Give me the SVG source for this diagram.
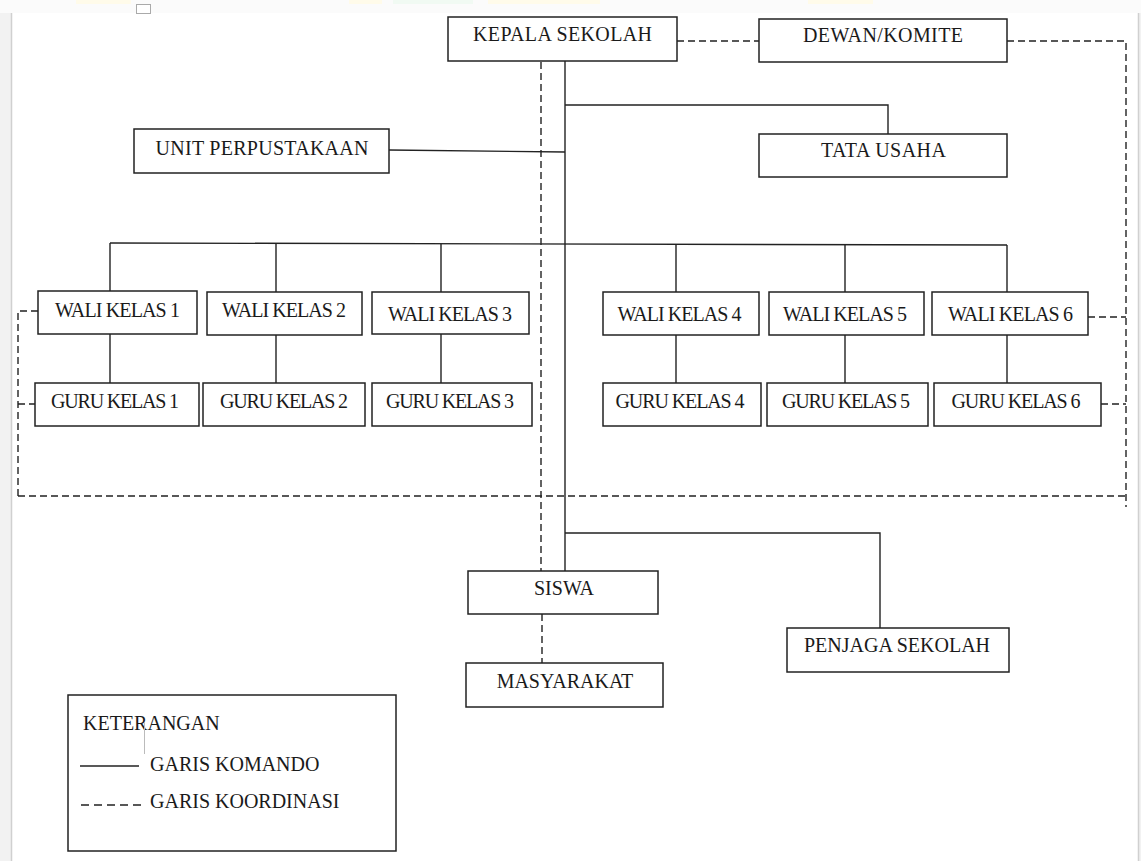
<svg xmlns="http://www.w3.org/2000/svg" width="1141" height="861" viewBox="0 0 1141 861" font-family="Liberation Serif, serif">
<style>
.box{fill:#fff;stroke:#222;stroke-width:1.5}
text{font-family:'Liberation Serif',serif;font-size:20px;fill:#1a1a1a}
.t{text-anchor:middle}
.solid{fill:none;stroke:#222;stroke-width:1.4}
.dash{fill:none;stroke:#222;stroke-width:1.4;stroke-dasharray:7 4}
</style>
<g id="page">
<rect x="0" y="0" width="1141" height="861" fill="#f2f2f2"/>
<rect x="12" y="13" width="1126" height="848" fill="#fff"/>
<rect x="0" y="0" width="1141" height="13" fill="#fbfbfb"/>
<rect x="76" y="0" width="55" height="4" fill="#fffbea"/>
<rect x="349" y="0" width="33" height="4" fill="#fffbea"/>
<rect x="393" y="0" width="80" height="4" fill="#f1faf3"/>
<rect x="488" y="0" width="112" height="4" fill="#fffbea"/>
<rect x="808" y="0" width="65" height="4" fill="#fffbea"/>
<rect x="136.5" y="4.5" width="14" height="9" fill="#fff" stroke="#aaa" stroke-width="1"/>
<line x1="11.5" y1="13" x2="11.5" y2="861" stroke="#d0d0d0" stroke-width="1.5"/>
<line x1="1138.5" y1="13" x2="1138.5" y2="861" stroke="#d0d0d0" stroke-width="1.5"/>
</g>
<g id="connectors">
<line class="solid" x1="565" y1="61" x2="565" y2="571"/>
<polyline class="solid" points="565,105 888,105 888,134"/>
<line class="solid" x1="389" y1="150" x2="565" y2="152"/>
<line class="solid" x1="110" y1="243" x2="1007" y2="245"/>
<line class="solid" x1="110" y1="243" x2="110" y2="291"/>
<line class="solid" x1="276" y1="243" x2="276" y2="292"/>
<line class="solid" x1="441" y1="244" x2="441" y2="292"/>
<line class="solid" x1="676" y1="244" x2="676" y2="292"/>
<line class="solid" x1="845" y1="245" x2="845" y2="292"/>
<line class="solid" x1="1007" y1="245" x2="1007" y2="292"/>
<line class="solid" x1="110" y1="334" x2="110" y2="383"/>
<line class="solid" x1="276" y1="335" x2="276" y2="383"/>
<line class="solid" x1="441" y1="334" x2="441" y2="383"/>
<line class="solid" x1="676" y1="335" x2="676" y2="383"/>
<line class="solid" x1="845" y1="335" x2="845" y2="383"/>
<line class="solid" x1="1007" y1="335" x2="1007" y2="383"/>
<polyline class="solid" points="565,533 880,533 880,628"/>
<line class="dash" x1="677" y1="41" x2="759" y2="41"/>
<polyline class="dash" points="1007,41 1126,41 1126,507"/>
<line class="dash" x1="18" y1="496" x2="1126" y2="496"/>
<polyline class="dash" points="38,311 18,311 18,496"/>
<line class="dash" x1="18" y1="404" x2="35" y2="404"/>
<line class="dash" x1="1088" y1="317" x2="1126" y2="317"/>
<line class="dash" x1="1101" y1="404" x2="1126" y2="404"/>
<line class="dash" x1="541" y1="62" x2="541" y2="571"/>
<line class="dash" x1="542" y1="614" x2="542" y2="663"/>
</g>
<g id="kepala-sekolah"><rect class="box" x="448" y="17" width="229" height="44"/><text class="t" x="562.5" y="41" textLength="179">KEPALA SEKOLAH</text></g>
<g id="dewan-komite"><rect class="box" x="759" y="19" width="248" height="43"/><text class="t" x="883" y="42" textLength="160">DEWAN/KOMITE</text></g>
<g id="unit-perpustakaan"><rect class="box" x="134" y="129" width="255" height="44"/><text class="t" x="262" y="155" textLength="213">UNIT PERPUSTAKAAN</text></g>
<g id="tata-usaha"><rect class="box" x="759" y="134" width="248" height="43"/><text class="t" x="883.5" y="157" textLength="125">TATA USAHA</text></g>
<g id="wali-kelas-1"><rect class="box" x="38" y="291" width="159" height="43"/><text class="t" x="117.5" y="317" textLength="125">WALI KELAS 1</text></g>
<g id="wali-kelas-2"><rect class="box" x="207" y="292" width="155" height="43"/><text class="t" x="284" y="317" textLength="124">WALI KELAS 2</text></g>
<g id="wali-kelas-3"><rect class="box" x="372" y="292" width="157" height="42"/><text class="t" x="450" y="321" textLength="124">WALI KELAS 3</text></g>
<g id="wali-kelas-4"><rect class="box" x="603" y="292" width="156" height="43"/><text class="t" x="679.5" y="321" textLength="124">WALI KELAS 4</text></g>
<g id="wali-kelas-5"><rect class="box" x="769" y="292" width="155" height="43"/><text class="t" x="845" y="321" textLength="124">WALI KELAS 5</text></g>
<g id="wali-kelas-6"><rect class="box" x="932" y="292" width="156" height="43"/><text class="t" x="1010.5" y="321" textLength="125">WALI KELAS 6</text></g>
<g id="guru-kelas-1"><rect class="box" x="35" y="383" width="164" height="43"/><text class="t" x="115" y="408" textLength="128">GURU KELAS 1</text></g>
<g id="guru-kelas-2"><rect class="box" x="203" y="383" width="162" height="43"/><text class="t" x="284" y="408" textLength="128">GURU KELAS 2</text></g>
<g id="guru-kelas-3"><rect class="box" x="372" y="383" width="160" height="43"/><text class="t" x="450" y="408" textLength="128">GURU KELAS 3</text></g>
<g id="guru-kelas-4"><rect class="box" x="603" y="383" width="158" height="43"/><text class="t" x="680" y="408" textLength="129">GURU KELAS 4</text></g>
<g id="guru-kelas-5"><rect class="box" x="767" y="383" width="161" height="43"/><text class="t" x="846" y="408" textLength="128">GURU KELAS 5</text></g>
<g id="guru-kelas-6"><rect class="box" x="934" y="383" width="167" height="43"/><text class="t" x="1016" y="408" textLength="129">GURU KELAS 6</text></g>
<g id="siswa"><rect class="box" x="468" y="571" width="190" height="43"/><text class="t" x="564" y="595">SISWA</text></g>
<g id="masyarakat"><rect class="box" x="466" y="663" width="197" height="44"/><text class="t" x="565" y="688">MASYARAKAT</text></g>
<g id="penjaga-sekolah"><rect class="box" x="787" y="628" width="222" height="44"/><text class="t" x="897" y="652">PENJAGA SEKOLAH</text></g>
<g id="keterangan">
<rect class="box" x="68" y="695" width="328" height="156"/>
<text x="83" y="730">KETERANGAN</text>
<line x1="144.5" y1="722" x2="144.5" y2="754" stroke="#bbb" stroke-width="1"/>
<line class="solid" x1="80" y1="766" x2="139" y2="766"/>
<text x="150" y="771">GARIS KOMANDO</text>
<line x1="81" y1="805" x2="141" y2="805" stroke="#222" stroke-width="1.4" stroke-dasharray="8 5"/>
<text x="150" y="808">GARIS KOORDINASI</text>
</g>
</svg>
